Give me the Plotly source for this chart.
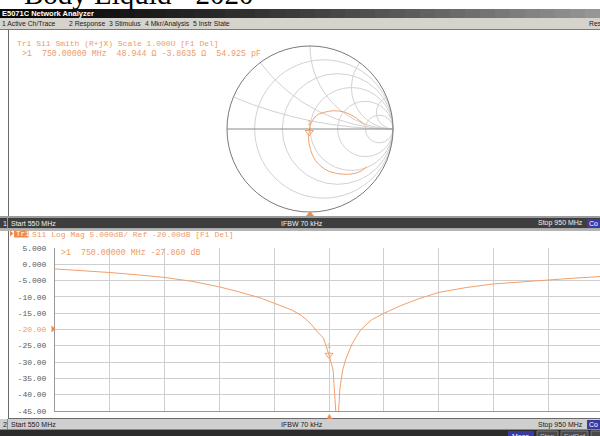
import plotly.graph_objects as go
import numpy as np

# ---------------- data ----------------
freq_mhz = [550, 570, 590, 610, 630, 650, 670, 685, 700, 710, 723, 730, 736, 741, 746,
            750, 753, 756, 758, 760, 762, 767, 773, 781, 790, 802, 815, 830, 850, 870,
            890, 910, 930, 950]
s11_db = [-1.5, -2.0, -2.6, -3.3, -4.1, -5.3, -7.0, -8.6, -10.4, -12.0, -14.1, -15.8, -18.0, -20.5, -22.7,
          -27.86, -32.5, -52.0, -38.0, -32.5, -29.4, -24.3, -20.2, -17.1, -15.1, -12.8, -10.7, -8.7, -7.2, -6.1,
          -5.4, -4.9, -4.3, -3.8]

# reflection coefficient (550 MHz -> 950 MHz)
smith_gamma_re = [0.683, 0.63, 0.562, 0.48, 0.40, 0.32, 0.24, 0.17, 0.11, 0.065, 0.03, 0.005, -0.012,
                  -0.018, -0.015, -0.009, -0.006, 0.0, 0.02, 0.06, 0.10, 0.16, 0.22, 0.28, 0.34, 0.40,
                  0.46, 0.52, 0.56, 0.60, 0.635, 0.66]
smith_gamma_im = [-0.455, -0.50, -0.53, -0.545, -0.545, -0.535, -0.515, -0.48, -0.43, -0.38, -0.315, -0.245, -0.17,
                  -0.10, -0.06, -0.039, 0.0, 0.036, 0.09, 0.145, 0.178, 0.198, 0.212, 0.22, 0.218, 0.208,
                  0.185, 0.157, 0.13, 0.10, 0.072, 0.048]

marker_freq = 750.0
marker_db = -27.86
marker_r_ohm = 48.944
marker_x_ohm = -3.8635
z0 = 50.0

y_tick_vals = [5, 0, -5, -10, -15, -20, -25, -30, -35, -40, -45]
y_tick_text = ["5.000", "0.000", "-5.000", "-10.00", "-15.00", "-20.00", "-25.00",
               "-30.00", "-35.00", "-40.00", "-45.00"]
x_tick_vals = [550, 590, 630, 670, 710, 750, 790, 830, 870, 910, 950]

smith_r_grid = [0.2, 0.5, 1, 2, 5]
smith_x_grid = [0.2, 0.5, 1, 2, 5]

# ---------------- styling helpers ----------------
W, H = 600, 436
ORANGE = "#f2a06c"
TXT_OR = "#ee9a66"
MONO = "Liberation Mono, DejaVu Sans Mono, monospace"
SANS = "Liberation Sans, Arial, sans-serif"


def px(x):
    return x / W


def py(y):
    return 1 - y / H


shapes = []
annos = []


def rect(x0, y0, x1, y1, color, lw=0, lc=None):
    shapes.append(dict(type="rect", xref="paper", yref="paper",
                       x0=px(x0), x1=px(x1), y0=py(y1), y1=py(y0),
                       fillcolor=color, line=dict(width=lw, color=lc or color), layer="below"))


def hline(x0, x1, y, color, w=1):
    shapes.append(dict(type="line", xref="paper", yref="paper", x0=px(x0), x1=px(x1),
                       y0=py(y), y1=py(y), line=dict(color=color, width=w), layer="below"))


def vline(x, y0, y1, color, w=1):
    shapes.append(dict(type="line", xref="paper", yref="paper", x0=px(x), x1=px(x),
                       y0=py(y0), y1=py(y1), line=dict(color=color, width=w), layer="below"))


def text(x, y, s, size=8, color="#000", family=SANS, xanchor="left", bold=False):
    if bold:
        s = "<b>" + s + "</b>"
    annos.append(dict(x=px(x), y=py(y), xref="paper", yref="paper", text=s, showarrow=False,
                      xanchor=xanchor, yanchor="middle", font=dict(size=size, color=color, family=family)))


# ---------------- window chrome ----------------
n = 40
for i in range(n):
    t = i / (n - 1)
    v = int(8 + (150 - 8) * t ** 1.4)
    rect(i * W / n, 9, (i + 1) * W / n + 0.5, 18, f"rgb({v},{v},{v})")
text(0, 13.5, "E5071C Network Analyzer", 7.5, "#ffffff", SANS, bold=True)
rect(0, 18, 600, 29, "#d6d3cc")
hline(0, 600, 29.5, "#7a7a7a", 1)
for xx, s in [(0, "1 Active Ch/Trace"), (67, "2 Response"), (107, "3 Stimulus"),
              (143, "4 Mkr/Analysis"), (191, "5 Instr State"), (587, "Res")]:
    text(xx, 23.5, s, 6.8, "#202020", SANS)

vline(8.5, 30, 216, "#6a6a6a", 1)
rect(0, 216, 600, 218, "#9c9c9c")
rect(0, 218, 600, 228.5, "#3e3e3e")
rect(0, 228.5, 600, 231, "#b4b4b4")
vline(7.5, 218, 228.5, "#9a9a9a", 1)
text(0.5, 223.5, "1", 7, "#f0f0f0")
text(8.5, 223.5, "Start 550 MHz", 7, "#f0f0f0")
text(302, 223.5, "IFBW 70 kHz", 7, "#f0f0f0", xanchor="center")
text(585, 223.5, "Stop 950 MHz", 7, "#f0f0f0", xanchor="right")
rect(587, 219, 600, 228, "#3a3aa0")
text(587, 223.5, "Co", 7, "#ffffff")

vline(8.5, 231, 418, "#6a6a6a", 1)
hline(8, 600, 418.5, "#6a6a6a", 1)
rect(0, 419, 600, 429.5, "#cfcfcf")
text(0.5, 424.5, "2", 7, "#202020")
vline(7.5, 419, 429.5, "#8a8a8a", 1)
text(8.5, 424.5, "Start 550 MHz", 7, "#202020")
text(302, 424.5, "IFBW 70 kHz", 7, "#202020", xanchor="center")
text(585, 424.5, "Stop 950 MHz", 7, "#202020", xanchor="right")
rect(587, 420, 600, 429, "#3a3aa0")
text(587, 424.5, "Co", 7, "#ffffff")
rect(0, 429.5, 600, 436, "#2c2c2c")
rect(508, 431, 534, 437, "#3a3aa0")
rect(537, 431, 558, 437, "#4a4a4a", 0.8, "#8a8a8a")
rect(561, 431, 588, 437, "#4a4a4a", 0.8, "#8a8a8a")
rect(591, 431, 601, 437, "#4a4a4a", 0.8, "#8a8a8a")
text(521, 436.5, "Meas", 7, "#ffffff", xanchor="center")
text(547.5, 436.5, "Stop", 7, "#bdbdbd", xanchor="center")
text(574.5, 436.5, "ExtRef", 7, "#bdbdbd", xanchor="center")

# top title (cut off by the page edge)
annos.append(dict(x=px(22), y=py(-5.5), xref="paper", yref="paper", text="Body Liquid - 2020",
                  showarrow=False, xanchor="left", yanchor="middle",
                  font=dict(size=29, color="#000000", family="Liberation Serif, Times New Roman, serif")))

# channel 1 texts
text(15, 43, "Tr1 S11 Smith (R+jX) Scale 1.000U [F1 Del]", 8, TXT_OR, MONO)
text(20, 53, ">1  750.00000 MHz  48.944 \u03a9 -3.8635 \u03a9  54.925 pF", 8.3, TXT_OR, MONO)

# channel 2 texts
shapes.append(dict(type="path", xref="paper", yref="paper",
                   path=f"M {px(10)} {py(230.5)} L {px(13.5)} {py(233.5)} L {px(10)} {py(236.5)} Z",
                   fillcolor="#f08a4c", line=dict(width=0)))
rect(14, 230.5, 28.5, 237.5, "#f08a4c")
text(13.5, 234, "Tr1", 7.5, "#ffffff", MONO)
text(30, 234, "S11 Log Mag 5.000dB/ Ref -20.00dB [F1 Del]", 8, TXT_OR, MONO)
text(59, 252, ">1  750.00000 MHz -27.860 dB", 8.3, TXT_OR, MONO)

shapes.append(dict(type="path", xref="paper", yref="paper",
                   path=f"M {px(51.5)} {py(325.5)} L {px(55.5)} {py(329)} L {px(51.5)} {py(332.5)} Z",
                   fillcolor="#f08a4c", line=dict(width=0)))
shapes.append(dict(type="path", xref="paper", yref="paper",
                   path=f"M {px(306)} {py(216)} L {px(310)} {py(211)} L {px(314)} {py(216)} Z",
                   fillcolor="#f08a4c", line=dict(width=0)))
annos.append(dict(x=marker_freq, y=py(415), xref="x", yref="paper", text="\u25b2", showarrow=False,
                  xanchor="center", yanchor="middle", font=dict(size=9, color="#f08a4c")))

# ---------------- traces ----------------
fig = go.Figure()

fig.add_trace(go.Scatter(x=freq_mhz, y=s11_db, mode="lines",
                         line=dict(color=ORANGE, width=1), xaxis="x", yaxis="y",
                         showlegend=False, hoverinfo="skip"))
fig.add_trace(go.Scatter(x=[marker_freq], y=[marker_db], mode="markers+text",
                         marker=dict(symbol="triangle-down-open", size=7, color=ORANGE, line=dict(width=1)),
                         text=["1"], textposition="top center",
                         textfont=dict(size=7, color=ORANGE, family=MONO),
                         xaxis="x", yaxis="y", showlegend=False, hoverinfo="skip"))

g = np.array(smith_gamma_re) + 1j * np.array(smith_gamma_im)
z = (1 + g) / (1 - g)
fig.add_trace(go.Scattersmith(real=z.real, imag=z.imag, mode="lines",
                              line=dict(color=ORANGE, width=1), showlegend=False, hoverinfo="skip"))
fig.add_trace(go.Scattersmith(real=[marker_r_ohm / z0], imag=[marker_x_ohm / z0], mode="markers+text",
                              marker=dict(symbol="triangle-down-open", size=7, color=ORANGE, line=dict(width=1)),
                              text=["1"], textposition="top center",
                              textfont=dict(size=7, color=ORANGE, family=MONO),
                              showlegend=False, hoverinfo="skip"))

# ---------------- layout ----------------
plot_x0, plot_x1 = 55, 600
x_range_end = 550 + (plot_x1 - plot_x0) / 54.8 * 40
y_top, y_bot = 247.7, 411

tick_text_col = [t if v != -20 else f"<span style='color:{TXT_OR}'>{t}</span>"
                 for v, t in zip(y_tick_vals, y_tick_text)]

fig.update_layout(
    width=W, height=H, margin=dict(l=0, r=0, t=0, b=0, autoexpand=False),
    paper_bgcolor="#ffffff", plot_bgcolor="rgba(0,0,0,0)",
    showlegend=False,
    xaxis=dict(domain=[px(plot_x0), px(plot_x1)], range=[550, x_range_end],
               tickvals=x_tick_vals, showticklabels=False, ticks="",
               showgrid=True, gridcolor="#cfcfcf", gridwidth=1, zeroline=False,
               showline=True, linecolor="#9a9a9a", linewidth=1, fixedrange=True, automargin=False),
    yaxis=dict(domain=[py(y_bot), py(y_top)], range=[-45, 5],
               tickvals=y_tick_vals, ticktext=tick_text_col, ticks="",
               tickfont=dict(family=MONO, size=8, color="#5a5a5a"), ticklabelstandoff=6,
               showgrid=True, gridcolor="#cfcfcf", gridwidth=1, zeroline=False,
               showline=True, linecolor="#9a9a9a", linewidth=1, fixedrange=True, automargin=False),
    smith=dict(
        domain=dict(x=[px(227), px(393)], y=[py(212), py(46)]),
        bgcolor="rgba(0,0,0,0)",
        realaxis=dict(tickvals=smith_r_grid, showticklabels=False, ticks="",
                      gridcolor="#d2d2d2", gridwidth=1, showgrid=True,
                      showline=True, linecolor="#8a8a8a", linewidth=1),
        imaginaryaxis=dict(tickvals=smith_x_grid, showticklabels=False, ticks="",
                           gridcolor="#d2d2d2", gridwidth=1, showgrid=True,
                           showline=True, linecolor="#7a7a7a", linewidth=1),
    ),
    shapes=shapes, annotations=annos,
)

fig.write_html("out.html", config={"displayModeBar": False, "staticPlot": True},
               post_script="document.body.style.margin='0px';document.body.style.padding='0px';"
                           "document.body.style.overflow='hidden';")
